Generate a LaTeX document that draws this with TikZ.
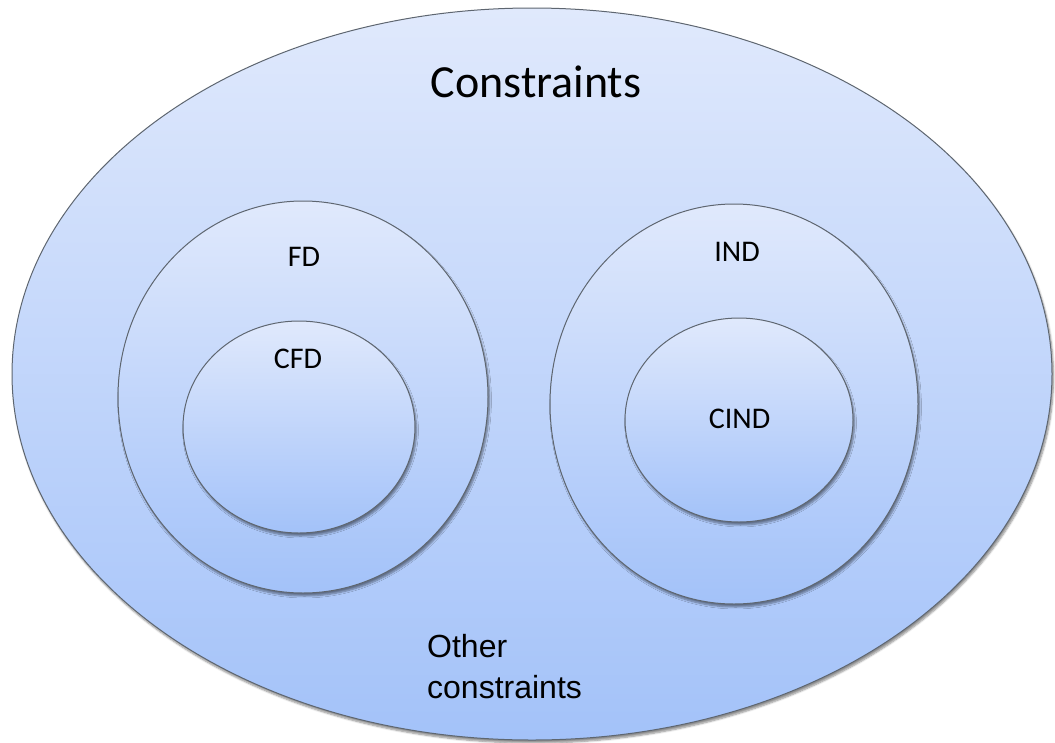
\documentclass[tikz,border=0pt]{standalone}
\usepackage{fontspec}
\setmainfont{Carlito}
\newfontfamily\arialfont{Liberation Sans}
\usetikzlibrary{shapes.geometric,shadows.blur}
\definecolor{setTop}{HTML}{E0E9FC}
\definecolor{setBottom}{HTML}{A3C2F9}
\definecolor{setEdge}{HTML}{5E6670}
\tikzset{
  setshape/.style={ellipse, inner sep=0pt, outer sep=0pt,
    draw=setEdge, line width=1pt,
    top color=setTop, bottom color=setBottom,
    blur shadow={shadow xshift=1.5pt, shadow yshift=-3pt,
      shadow blur steps=6, shadow opacity=45}},
  setlabel/.style={anchor=base, inner sep=0pt, font=\fontsize{30}{36}\selectfont},
}
\begin{document}
\begin{tikzpicture}[x=1pt, y=-1pt]
  \useasboundingbox (0,0) rectangle (1055,742);
  % universe of constraints
  \node[setshape, minimum width=1040pt, minimum height=732pt] (all) at (532,374) {};
  % functional dependencies
  \node[setshape, minimum width=370pt, minimum height=392pt] (fd) at (303,397) {};
  \node[setshape, minimum width=232pt, minimum height=212pt] (cfd) at (299,427) {};
  % inclusion dependencies
  \node[setshape, minimum width=368pt, minimum height=400pt] (ind) at (734,404) {};
  \node[setshape, minimum width=228pt, minimum height=204pt] (cind) at (739,420) {};
  % labels
  \node[setlabel, font=\fontsize{46}{55}\selectfont] (tall) at (536,97) {Constraints};
  \node[setlabel] (tfd) at (304,266) {FD};
  \node[setlabel] (tcfd) at (298,368) {CFD};
  \node[setlabel] (tind) at (737,261) {IND};
  \node[setlabel] (tcind) at (739.5,428) {CIND};
  % base anchor of a two-line node sits on its last line
  \node[anchor=base west, inner sep=0pt, align=left,
        font=\arialfont\fontsize{32}{41}\selectfont] (tother) at (427,698)
        {Other\\constraints};
\end{tikzpicture}
\end{document}
